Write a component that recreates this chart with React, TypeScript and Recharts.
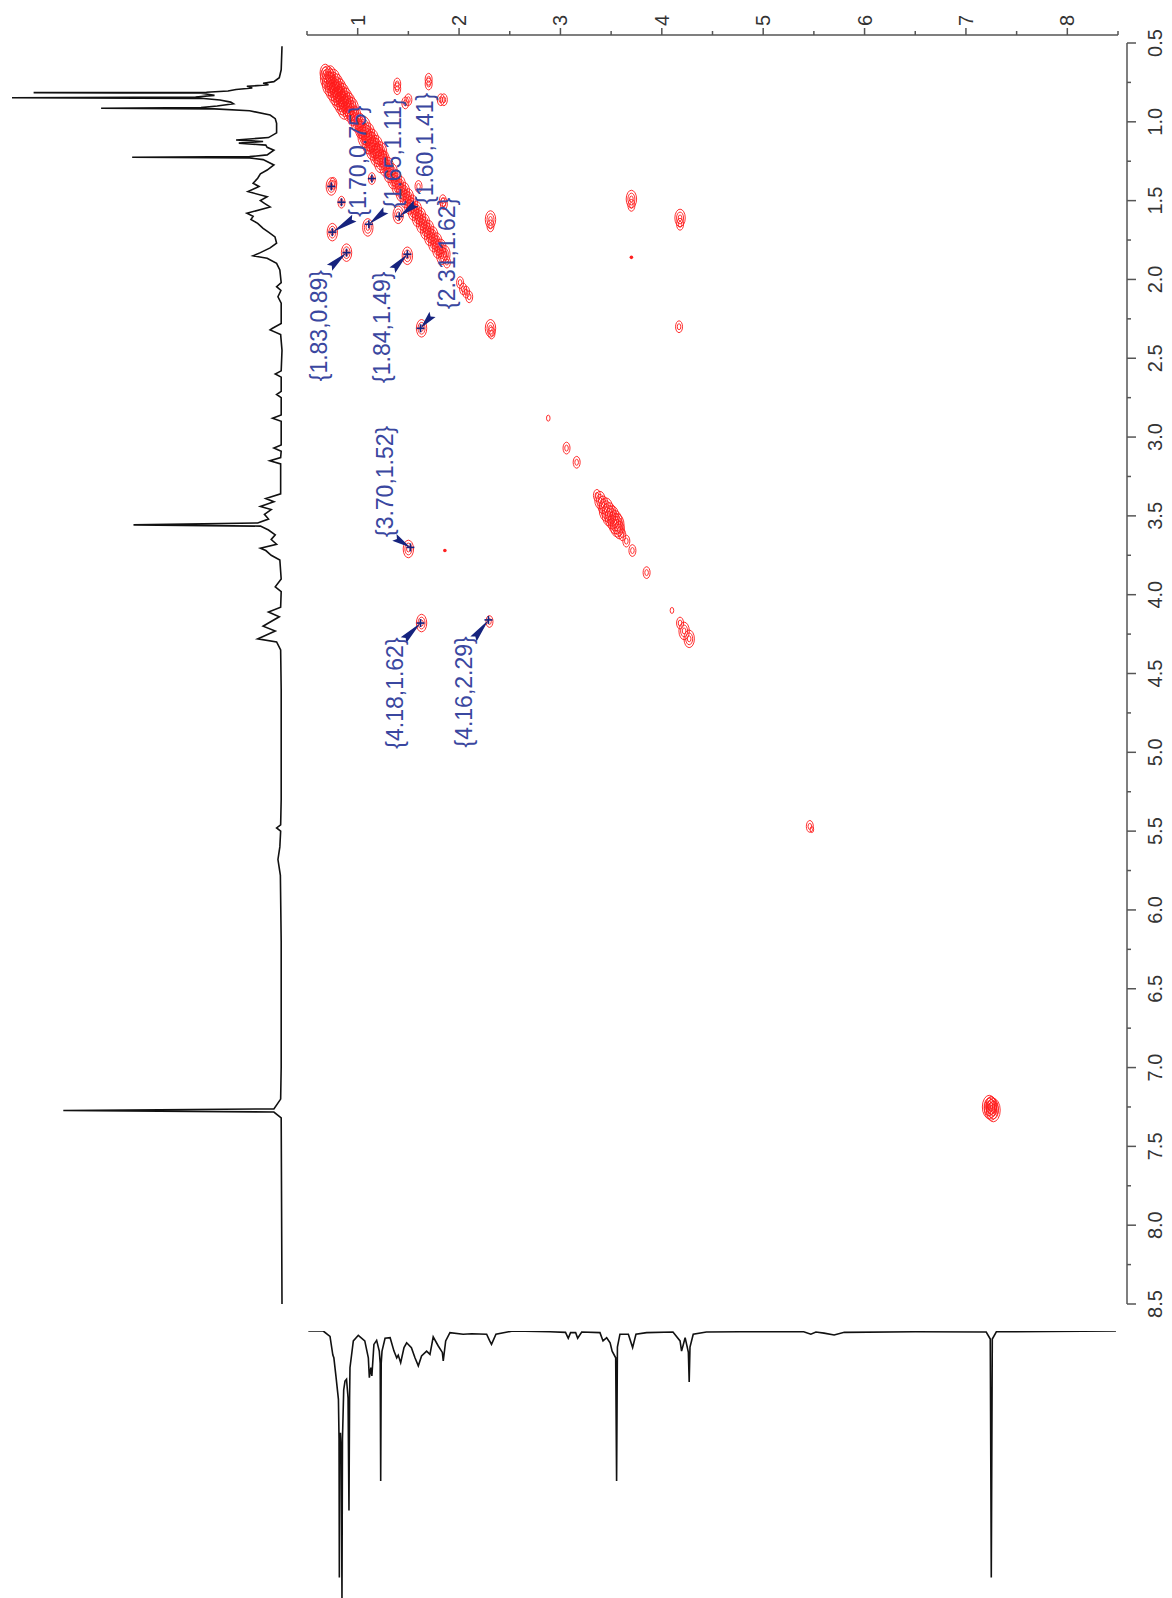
import React from 'react';
import { ScatterChart, Scatter, XAxis, YAxis } from 'recharts';

// 1H trace along the F2 side (left, peaks pointing left): [ppm, relative intensity]
const f2Trace: [number, number][] = [
  [0.52, 0], [0.67, 0.3], [0.72, 1], [0.745, 3], [0.755, 7], [0.765, 5], [0.775, 13], [0.785, 11],
  [0.795, 17], [0.805, 20], [0.812, 28], [0.815, 92], [0.819, 30], [0.832, 25], [0.843, 32],
  [0.847, 100], [0.851, 30], [0.862, 23], [0.875, 19], [0.885, 18], [0.9, 24], [0.91, 30],
  [0.914, 67], [0.918, 25], [0.93, 12], [0.957, 4.4], [0.98, 2.5], [1.01, 2], [1.07, 2], [1.1, 5],
  [1.115, 17], [1.125, 7], [1.135, 16], [1.148, 6], [1.162, 5.5], [1.18, 3], [1.21, 5.5], [1.221, 12],
  [1.225, 55.5], [1.229, 12], [1.24, 7], [1.274, 3], [1.306, 5.5], [1.33, 8], [1.358, 9], [1.39, 10.7],
  [1.41, 8.5], [1.443, 12.6], [1.475, 5.5], [1.5, 8], [1.517, 6.5], [1.54, 4.4], [1.58, 13], [1.6, 10.7],
  [1.62, 11.5], [1.644, 9], [1.676, 7], [1.7, 5], [1.73, 2.6], [1.77, 2], [1.8, 4.4], [1.83, 8],
  [1.85, 10.7], [1.866, 5.5], [1.898, 2], [1.94, 0.8], [2.02, 0.3], [2.046, 2], [2.07, 0.4], [2.11, 1.5],
  [2.15, 0.3], [2.28, 0.3], [2.31, 3.5], [2.32, 4.4], [2.35, 0.5], [2.45, 0], [2.58, 0.3], [2.6, 2.5],
  [2.62, 0.3], [2.71, 0.3], [2.73, 2], [2.75, 0.3], [2.86, 0.3], [2.88, 3.5], [2.9, 0.3], [3.05, 0.3],
  [3.07, 3], [3.09, 0.3], [3.13, 0.5], [3.15, 4.5], [3.17, 0.5], [3.36, 0.5], [3.39, 6], [3.41, 3],
  [3.44, 8], [3.46, 4], [3.49, 6.5], [3.52, 5], [3.545, 9], [3.557, 55], [3.565, 8], [3.59, 5],
  [3.62, 2.5], [3.65, 4], [3.68, 2], [3.705, 8], [3.72, 6], [3.75, 4], [3.78, 0.8], [3.9, 0.3],
  [3.95, 2.5], [3.98, 0.3], [4.08, 0.5], [4.11, 5], [4.14, 1], [4.18, 5], [4.2, 7], [4.23, 2.5],
  [4.265, 7], [4.28, 9], [4.3, 2], [4.35, 0.5], [4.6, 0.3], [5.3, 0.3], [5.46, 0.5], [5.48, 2],
  [5.5, 0.5], [5.6, 0.8], [5.68, 1.5], [5.78, 0.6], [6.2, 0.3], [7.0, 0.3], [7.2, 0.5], [7.262, 3],
  [7.272, 81], [7.282, 3], [7.32, 0.3], [8.5, 0],
];

// 1H trace along the F1 side (bottom, peaks pointing down): [ppm, relative intensity]
const f1Trace: [number, number][] = [
  [0.513, 0], [0.66, 0], [0.727, 2], [0.755, 9], [0.765, 10], [0.786, 17], [0.81, 25.5], [0.816, 40],
  [0.819, 92], [0.823, 45], [0.83, 38], [0.838, 45], [0.845, 100], [0.85, 40], [0.862, 22],
  [0.875, 18.7], [0.89, 18], [0.905, 25], [0.914, 67], [0.92, 25], [0.924, 13.7], [0.957, 3.7],
  [1.006, 1.6], [1.07, 3.7], [1.105, 10], [1.115, 17.4], [1.13, 13.7], [1.14, 16.8], [1.16, 5],
  [1.187, 3.5], [1.213, 7.5], [1.222, 12], [1.227, 56], [1.232, 12], [1.24, 7.5], [1.27, 2.7],
  [1.32, 2.5], [1.358, 7.5], [1.385, 10], [1.4, 9], [1.424, 11.8], [1.457, 6.2], [1.483, 4.4],
  [1.53, 6.2], [1.565, 10], [1.598, 13], [1.63, 9.3], [1.68, 7.5], [1.713, 8.7], [1.745, 2.2],
  [1.795, 5.6], [1.835, 8], [1.844, 11.2], [1.868, 3.7], [1.91, 0.6], [2.04, 1.2], [2.124, 1],
  [2.272, 1.2], [2.3, 3.5], [2.32, 5], [2.364, 1.2], [2.53, 0], [2.896, 0.3], [3.05, 0.5],
  [3.077, 2.7], [3.1, 0.6], [3.15, 0.6], [3.17, 2.7], [3.21, 0.4], [3.39, 0.6], [3.42, 3.7],
  [3.456, 2.5], [3.49, 4.4], [3.51, 7.5], [3.545, 10], [3.554, 56], [3.562, 6], [3.587, 1.2],
  [3.67, 1.2], [3.712, 6.2], [3.745, 1.2], [3.85, 0.6], [4.11, 0.4], [4.18, 3.7], [4.195, 7.5],
  [4.23, 2.5], [4.262, 8], [4.27, 19], [4.278, 6], [4.31, 1.2], [4.44, 0.4], [4.77, 0.3], [5.4, 0.3],
  [5.47, 1.2], [5.52, 0.4], [5.6, 0.8], [5.7, 1.5], [5.8, 0.5], [6.5, 0.3], [7.2, 0.4], [7.24, 3],
  [7.25, 92], [7.26, 3], [7.3, 0.3], [8.48, 0],
];

// COSY contours on the diagonal: [F1 ppm, F2 ppm, contour levels]
const diagonalPeaks: [number, number, number][] = [
  [0.68, 0.69, 3], [0.7, 0.72, 4], [0.73, 0.7, 3], [0.72, 0.76, 4], [0.76, 0.74, 4], [0.75, 0.79, 4],
  [0.79, 0.77, 4], [0.78, 0.82, 4], [0.82, 0.8, 4], [0.81, 0.85, 4], [0.85, 0.83, 4], [0.84, 0.88, 4],
  [0.88, 0.86, 4], [0.87, 0.91, 4], [0.91, 0.89, 4], [0.91, 0.94, 3], [0.94, 0.92, 4], [0.95, 0.97, 3],
  [0.98, 0.96, 3], [0.99, 1.01, 3], [1.02, 1.0, 3], [1.03, 1.05, 3], [1.06, 1.04, 4], [1.07, 1.09, 4],
  [1.1, 1.08, 4], [1.11, 1.13, 4], [1.14, 1.12, 4], [1.15, 1.17, 4], [1.18, 1.16, 4], [1.19, 1.21, 4],
  [1.22, 1.2, 4], [1.23, 1.25, 4], [1.26, 1.24, 3], [1.27, 1.29, 3], [1.3, 1.28, 3], [1.31, 1.33, 3],
  [1.34, 1.32, 3], [1.35, 1.37, 3], [1.38, 1.36, 3], [1.39, 1.41, 3], [1.42, 1.4, 3], [1.43, 1.45, 3],
  [1.46, 1.44, 3], [1.47, 1.49, 3], [1.5, 1.48, 3], [1.51, 1.53, 3], [1.54, 1.52, 3], [1.55, 1.57, 3],
  [1.58, 1.56, 3], [1.59, 1.61, 3], [1.62, 1.6, 3], [1.63, 1.65, 3], [1.66, 1.64, 3], [1.67, 1.69, 3],
  [1.7, 1.68, 3], [1.71, 1.73, 3], [1.74, 1.72, 3], [1.75, 1.77, 3], [1.78, 1.76, 3], [1.79, 1.81, 3],
  [1.82, 1.8, 3], [1.83, 1.85, 3], [1.86, 1.84, 3], [1.88, 1.89, 2], [2.01, 2.02, 2], [2.04, 2.06, 2],
  [2.07, 2.08, 2], [2.1, 2.11, 2], [2.31, 2.31, 3], [2.32, 2.34, 2], [2.88, 2.88, 1], [3.06, 3.07, 2],
  [3.16, 3.16, 2], [3.36, 3.37, 2], [3.39, 3.4, 3], [3.42, 3.43, 3], [3.45, 3.46, 4], [3.48, 3.49, 4],
  [3.51, 3.51, 4], [3.54, 3.54, 4], [3.56, 3.56, 4], [3.58, 3.59, 3], [3.61, 3.62, 2], [3.65, 3.66, 2],
  [3.71, 3.72, 2], [3.85, 3.86, 2], [4.1, 4.1, 1], [4.18, 4.18, 2], [4.22, 4.23, 3], [4.27, 4.28, 3],
  [5.46, 5.47, 2], [5.48, 5.49, 1], [7.23, 7.25, 4], [7.25, 7.26, 4], [7.27, 7.27, 4], [7.25, 7.24, 3],
];

// off-diagonal cross peaks: [F1 ppm, F2 ppm, contour levels]
const crossPeaks: [number, number, number][] = [
  [1.39, 0.76, 2], [1.39, 0.79, 2], [1.5, 0.86, 2], [1.47, 0.88, 2], [1.7, 0.73, 2], [1.7, 0.76, 2],
  [1.82, 0.86, 2], [1.85, 0.86, 2], [0.74, 1.41, 3], [0.76, 1.39, 2], [0.84, 1.51, 2], [0.75, 1.7, 3],
  [0.89, 1.83, 3], [1.14, 1.36, 2], [1.1, 1.67, 3], [1.4, 1.59, 3], [1.49, 1.85, 3], [1.6, 1.41, 2],
  [1.84, 1.5, 2], [1.85, 1.52, 2], [1.63, 2.31, 3], [2.31, 1.62, 3], [2.31, 1.66, 2], [3.7, 1.49, 3],
  [3.7, 1.53, 2], [3.7, 1.86, 0], [4.18, 1.61, 3], [4.18, 1.65, 2], [4.17, 2.3, 2], [1.5, 3.71, 3],
  [1.86, 3.72, 0], [1.63, 4.18, 3], [2.3, 4.17, 2],
];

// picked peaks without a label ("+" marks)
const pickedPeaks: [number, number][] = [
  [0.74, 1.41], [0.84, 1.51], [1.14, 1.36],
];

const peakLabels = [
  { f1: 0.75, f2: 1.7, text: '{1.70,0.75}' },
  { f1: 1.11, f2: 1.65, text: '{1.65,1.11}' },
  { f1: 1.41, f2: 1.6, text: '{1.60,1.41}' },
  { f1: 0.89, f2: 1.83, text: '{1.83,0.89}' },
  { f1: 1.49, f2: 1.84, text: '{1.84,1.49}' },
  { f1: 1.62, f2: 2.31, text: '{2.31,1.62}' },
  { f1: 1.52, f2: 3.7, text: '{3.70,1.52}' },
  { f1: 1.62, f2: 4.18, text: '{4.18,1.62}' },
  { f1: 2.29, f2: 4.16, text: '{4.16,2.29}' },
];

const f1Ticks = [0.5, 1, 1.5, 2, 2.5, 3, 3.5, 4, 4.5, 5, 5.5, 6, 6.5, 7, 7.5, 8, 8.5];
const f2Ticks = [
  0.5, 0.75, 1, 1.25, 1.5, 1.75, 2, 2.25, 2.5, 2.75, 3, 3.25, 3.5, 3.75, 4, 4.25, 4.5, 4.75,
  5, 5.25, 5.5, 5.75, 6, 6.25, 6.5, 6.75, 7, 7.25, 7.5, 7.75, 8, 8.25, 8.5,
];

// label placement, px relative to the peak: [text dx, text dy, arrow start dx, arrow start dy]
const LABEL_OFFSETS: Record<string, [number, number, number, number]> = {
  '{1.70,0.75}': [26, -71, 22, -14],
  '{1.65,1.11}': [24, -71, 17, -14],
  '{1.60,1.41}': [26, -68, 17, -13],
  '{1.83,0.89}': [-28, 73, -17, 15],
  '{1.84,1.49}': [-25, 73, -15, 16],
  '{2.31,1.62}': [26, -75, 12, -14],
  '{3.70,1.52}': [-25, -66, -16, -10],
  '{4.18,1.62}': [-26, 70, -17, 17],
  '{4.16,2.29}': [-24, 72, -15, 19],
};

const FONT = '"Liberation Sans", Arial, Helvetica, sans-serif';
const AXIS = '#555';
const NAVY = '#16237e';
const LABEL_BLUE = '#3a47a0';

const toContour = (rows: [number, number, number][]) => rows.map(([f1, f2, lvl]) => ({ f1, f2, lvl }));
const toTrace = (rows: [number, number][]) => rows.map(([ppm, inten]) => ({ ppm, inten }));

const NoDot = () => <g />;

const Contour = (props: any) => {
  const { cx, cy, payload } = props;
  if (payload.lvl === 0) return <circle cx={cx} cy={cy} r={1.8} fill="#ff2020" />;
  const rings = [];
  for (let i = 0; i < payload.lvl; i++) {
    rings.push(
      <ellipse key={i} cx={cx} cy={cy} rx={1.8 + 1.7 * i} ry={3 + 2.9 * i}
        fill="none" stroke="#ff1a1a" strokeWidth={0.9} />
    );
  }
  return <g>{rings}</g>;
};

const PlusMark = (props: any) => {
  const { cx, cy } = props;
  return (
    <g stroke={NAVY} strokeWidth={1.6}>
      <line x1={cx - 4} x2={cx + 4} y1={cy} y2={cy} />
      <line x1={cx} x2={cx} y1={cy - 4} y2={cy + 4} />
    </g>
  );
};

const PeakLabel = (props: any) => {
  const { cx, cy, payload } = props;
  const [tdx, tdy, sdx, sdy] = LABEL_OFFSETS[payload.text];
  const sx = cx + sdx;
  const sy = cy + sdy;
  const len = Math.hypot(cx - sx, cy - sy);
  const ux = (cx - sx) / len;
  const uy = (cy - sy) / len;
  const w = 4;
  const pts = [
    [sx - uy * w, sy + ux * w],
    [cx, cy],
    [sx + uy * w, sy - ux * w],
    [sx + ux * 3, sy + uy * 3],
  ].map((p) => p.join(',')).join(' ');
  const tx = cx + tdx;
  const ty = cy + tdy;
  return (
    <g>
      <polygon points={pts} fill={NAVY} />
      <line x1={cx - 4} x2={cx + 4} y1={cy} y2={cy} stroke={NAVY} strokeWidth={1.6} />
      <line x1={cx} x2={cx} y1={cy - 4} y2={cy + 4} stroke={NAVY} strokeWidth={1.6} />
      <text x={tx} y={ty} transform={`rotate(-90 ${tx} ${ty})`} textAnchor="middle"
        dominantBaseline="central" fontSize={23} fontFamily={FONT} fill={LABEL_BLUE}>
        {payload.text}
      </text>
    </g>
  );
};

const TopTick = (props: any) => {
  const { x, y, payload } = props;
  const major = Number.isInteger(payload.value);
  return (
    <g>
      <line x1={x} x2={x} y1={y} y2={y - (major ? 7 : 4)} stroke={AXIS} strokeWidth={1.5} />
      {major && (
        <text x={x} y={y - 9} transform={`rotate(-90 ${x} ${y - 9})`} textAnchor="start"
          dominantBaseline="central" fontSize={20} fontFamily={FONT} fill="#333">
          {payload.value}
        </text>
      )}
    </g>
  );
};

const RightTick = (props: any) => {
  const { x, y, payload } = props;
  const major = Math.abs(payload.value * 2 - Math.round(payload.value * 2)) < 1e-6;
  const lx = x + 28;
  return (
    <g>
      <line x1={x} x2={x + (major ? 9 : 4)} y1={y} y2={y} stroke={AXIS} strokeWidth={1.5} />
      {major && (
        <text x={lx} y={y} transform={`rotate(-90 ${lx} ${y})`} textAnchor="middle"
          dominantBaseline="central" fontSize={20} fontFamily={FONT} fill="#333">
          {payload.value.toFixed(1)}
        </text>
      )}
    </g>
  );
};

const box = (left: number, top: number): React.CSSProperties => ({ position: 'absolute', left, top });

export default function App() {
  const contours = [...toContour(diagonalPeaks), ...toContour(crossPeaks)];
  const marks = pickedPeaks.map(([f1, f2]) => ({ f1, f2 }));
  const sideTrace = toTrace(f2Trace);
  const bottomTrace = toTrace(f1Trace);
  const topAnchors = f1Ticks.map((v) => ({ x: v, y: 0.5 }));
  const rightAnchors = f2Ticks.map((v) => ({ x: 0.5, y: v }));

  return (
    <div style={{ position: 'absolute', left: 0, top: 0, width: 1172, height: 1598, background: '#fff', overflow: 'hidden' }}>
      {/* F1 axis on top */}
      <div style={box(0, 0)}>
        <ScatterChart width={1172} height={40} margin={{ top: 0, right: 54, bottom: 0, left: 307 }}>
          <XAxis orientation="top" type="number" dataKey="x" domain={[0.5, 8.5]} ticks={f1Ticks}
            interval={0} height={35} tickSize={0} tickMargin={0} tickLine={false}
            axisLine={{ stroke: AXIS, strokeWidth: 1.5 }} tick={(p: any) => <TopTick {...p} />} />
          <YAxis hide type="number" dataKey="y" domain={[0, 1]} />
          <Scatter data={topAnchors} shape={NoDot} isAnimationActive={false} />
        </ScatterChart>
      </div>

      {/* F2 axis on the right */}
      <div style={box(0, 0)}>
        <ScatterChart width={1172} height={1598} margin={{ top: 43, right: 0, bottom: 294, left: 1100 }}>
          <XAxis hide type="number" dataKey="x" domain={[0, 1]} />
          <YAxis orientation="right" type="number" dataKey="y" domain={[0.5, 8.5]} reversed
            ticks={f2Ticks} interval={0} width={45} tickSize={0} tickMargin={0} tickLine={false}
            axisLine={{ stroke: AXIS, strokeWidth: 1.5 }} tick={(p: any) => <RightTick {...p} />} />
          <Scatter data={rightAnchors} shape={NoDot} isAnimationActive={false} />
        </ScatterChart>
      </div>

      {/* 1D trace on the left (F2) */}
      <div style={box(0, 0)}>
        <ScatterChart width={300} height={1598} margin={{ top: 43, right: 18, bottom: 294, left: 12 }}>
          <XAxis hide type="number" dataKey="inten" domain={[0, 100]} reversed />
          <YAxis hide type="number" dataKey="ppm" domain={[0.5, 8.5]} reversed />
          <Scatter data={sideTrace} line={{ stroke: '#111', strokeWidth: 1.6 }} shape={NoDot}
            isAnimationActive={false} />
        </ScatterChart>
      </div>

      {/* 1D trace at the bottom (F1) */}
      <div style={box(307, 1331)}>
        <ScatterChart width={811} height={268} margin={{ top: 0, right: 0, bottom: 0, left: 0 }}>
          <XAxis hide type="number" dataKey="ppm" domain={[0.5, 8.5]} />
          <YAxis hide type="number" dataKey="inten" domain={[0, 100]} reversed />
          <Scatter data={bottomTrace} line={{ stroke: '#111', strokeWidth: 1.6 }} shape={NoDot}
            isAnimationActive={false} />
        </ScatterChart>
      </div>

      {/* COSY map */}
      <div style={box(307, 43)}>
        <ScatterChart width={811} height={1261} margin={{ top: 0, right: 0, bottom: 0, left: 0 }}>
          <XAxis hide type="number" dataKey="f1" domain={[0.5, 8.5]} />
          <YAxis hide type="number" dataKey="f2" domain={[0.5, 8.5]} reversed />
          <Scatter data={contours} shape={Contour} isAnimationActive={false} />
          <Scatter data={marks} shape={PlusMark} isAnimationActive={false} />
          <Scatter data={peakLabels} shape={PeakLabel} isAnimationActive={false} />
        </ScatterChart>
      </div>
    </div>
  );
}
